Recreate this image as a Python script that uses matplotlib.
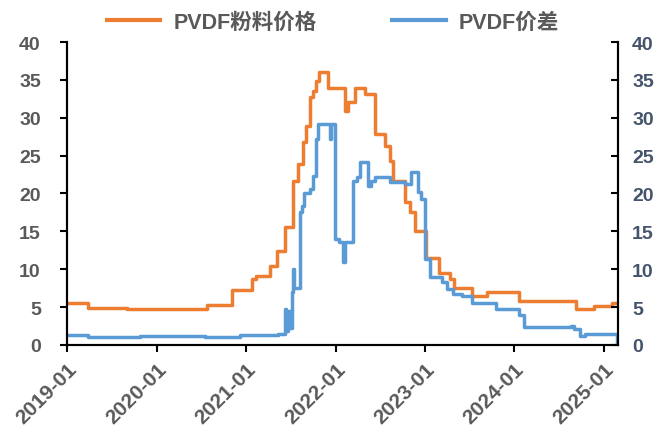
import matplotlib
matplotlib.use('Agg')
import matplotlib.pyplot as plt
import pandas as pd

plt.rcParams['font.family'] = ['Liberation Sans', 'Noto Sans CJK SC', 'DejaVu Sans']

# PVDF粉料价格 (step points)
price_dates = ['2019-01-01', '2019-03-25', '2019-09-01', '2020-07-25', '2020-11-05',
               '2021-01-25', '2021-02-10', '2021-04-07', '2021-05-05', '2021-06-07',
               '2021-07-10', '2021-08-01', '2021-08-20', '2021-09-01', '2021-09-18',
               '2021-10-01', '2021-10-12', '2021-10-25', '2021-12-01', '2022-02-08',
               '2022-02-21', '2022-03-20', '2022-05-01', '2022-06-10', '2022-07-20',
               '2022-08-10', '2022-08-22', '2022-10-10', '2022-11-01', '2022-11-20',
               '2023-01-05', '2023-03-01', '2023-04-12', '2023-05-01', '2023-07-13',
               '2023-09-10', '2024-01-22', '2024-09-08', '2024-11-20', '2025-02-03',
               '2025-02-24']
price_vals = [5.5, 4.9, 4.7, 5.3, 7.2,
              8.7, 9.1, 10.4, 12.4, 15.6,
              21.7, 23.9, 26.8, 28.9, 32.7,
              33.5, 34.8, 36.0, 34.0, 30.9,
              32.1, 34.0, 33.1, 27.9, 26.3,
              24.3, 21.7, 18.9, 17.6, 15.0,
              11.5, 9.5, 8.7, 7.5, 6.5,
              7.0, 5.8, 4.8, 5.1, 5.5,
              5.5]

# PVDF价差
spread_dates = ['2019-01-01', '2019-03-25', '2019-10-25', '2020-07-15', '2020-12-05',
                '2021-05-12', '2021-06-07', '2021-06-14', '2021-06-20', '2021-06-27',
                '2021-07-05', '2021-07-10', '2021-07-17', '2021-08-08', '2021-08-15',
                '2021-08-25', '2021-09-18', '2021-10-01', '2021-10-12', '2021-10-20',
                '2021-12-10', '2021-12-14', '2021-12-20', '2021-12-28', '2022-01-17',
                '2022-02-01', '2022-02-08', '2022-03-12', '2022-03-28', '2022-04-10',
                '2022-05-12', '2022-05-25', '2022-06-10', '2022-08-10', '2022-10-10',
                '2022-11-05', '2022-12-03', '2022-12-15', '2023-01-01', '2023-01-22',
                '2023-03-13', '2023-04-01', '2023-04-25', '2023-06-01', '2023-07-13',
                '2023-10-20', '2024-01-22', '2024-02-10', '2024-08-20', '2024-09-01',
                '2024-09-25', '2024-10-15', '2025-02-10', '2025-02-24']
spread_vals = [1.3, 1.0, 1.2, 1.1, 1.3,
               1.5, 4.8, 1.8, 4.5, 2.2,
               7.0, 10.0, 7.5, 17.5, 18.4,
               20.0, 20.6, 22.3, 27.2, 29.2,
               27.2, 29.2, 29.2, 14.0, 13.6,
               11.0, 13.6, 21.7, 22.2, 24.1,
               21.0, 21.7, 22.2, 21.5, 21.3,
               22.8, 20.2, 19.3, 11.4, 9.0,
               8.3, 7.4, 6.7, 6.5, 5.5,
               4.8, 4.0, 2.4, 2.5, 2.1,
               1.2, 1.4, 1.4, 0.0]

xtick_labels = ['2019-01', '2020-01', '2021-01', '2022-01', '2023-01', '2024-01', '2025-01']
yticks = [0, 5, 10, 15, 20, 25, 30, 35, 40]

price = pd.Series(price_vals, index=pd.to_datetime(price_dates))
spread = pd.Series(spread_vals, index=pd.to_datetime(spread_dates))

fig = plt.figure(figsize=(6.59, 4.27), dpi=100)
ax = fig.add_axes([0.102, 0.19, 0.836, 0.709])
ax2 = ax.twinx()

l1, = ax.plot(price.index, price.values, drawstyle='steps-post', color='#ED7D31',
              lw=2.5, label='PVDF粉料价格')
l2, = ax.plot(spread.index, spread.values, drawstyle='steps-post', color='#5B9BD5',
              lw=2.5, label='PVDF价差')

ax.set_xlim(pd.Timestamp('2019-01-01'), pd.Timestamp('2025-02-28'))
for a in (ax, ax2):
    a.set_ylim(0, 40)
    a.set_yticks(yticks)
    a.spines['top'].set_visible(False)
    for s in ('left', 'right', 'bottom'):
        a.spines[s].set_linewidth(1.5)

ax.set_xticks(pd.to_datetime([d + '-01' for d in xtick_labels]))
ax.set_xticklabels(xtick_labels, rotation=45, ha='right', rotation_mode='anchor',
                   fontsize=15, fontweight='bold', color='#595959')
ax.tick_params(axis='x', direction='out', length=5, width=1.5, pad=5)
ax.tick_params(axis='y', direction='out', length=5, width=1.5, labelsize=14,
               labelcolor='#595959', pad=14)
for t in ax.get_yticklabels():
    t.set_fontweight('bold')
ax2.tick_params(axis='y', direction='in', length=5, width=1.5, labelsize=14,
                labelcolor='#44546A', pad=10)
for t in ax2.get_yticklabels():
    t.set_fontweight('bold')

leg = fig.legend(handles=[l1, l2], loc='center', bbox_to_anchor=(0.505, 0.946), ncol=2,
                 frameon=False, handlelength=2.5, handletextpad=0.6, columnspacing=3.5,
                 prop={'family': ['Liberation Sans', 'Noto Sans CJK SC'], 'weight': 'bold', 'size': 15.5})
for t in leg.get_texts():
    t.set_color('#595959')
for h in leg.get_lines():
    h.set_linewidth(3)

fig.savefig('out.png', dpi=100)
